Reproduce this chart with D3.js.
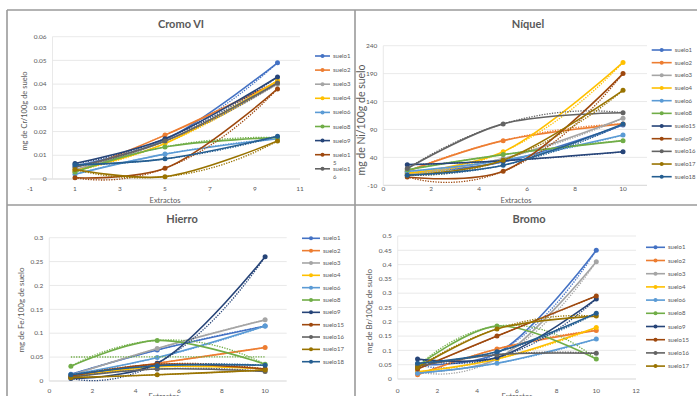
<!DOCTYPE html>
<html>
<head>
<meta charset="utf-8">
<script src="https://cdn.jsdelivr.net/npm/d3@7"></script>
<style>
  body { margin: 0; background: #fff; }
  svg { display: block; font-family: Lato, 'Open Sans', sans-serif; }
</style>
</head>
<body>
<svg id="chart" width="697" height="396"></svg>
<script>
// Extractos mesurés (axe x)
const extractos = [1, 5, 10]

// Couleurs Excel, dans l'ordre des séries
const palette = ['#4472C4', '#ED7D31', '#A5A5A5', '#FFC000', '#5B9BD5', '#70AD47',
                 '#264478', '#9E480E', '#636363', '#997300', '#255E91']

// --- Cromo VI ---
const cromoSuelos = ['suelo1', 'suelo2', 'suelo3', 'suelo4', 'suelo6', 'suelo8',
                     'suelo9', 'suelo15', 'suelo16', 'suelo17', 'suelo18']
const cromoValores = [
  [0.0055, 0.0165, 0.049],
  [0.003, 0.0185, 0.041],
  [0.004, 0.016, 0.040],
  [0.0035, 0.015, 0.0415],
  [0.002, 0.0105, 0.017],
  [0.003, 0.0135, 0.0175],
  [0.0065, 0.017, 0.043],
  [0.0005, 0.0045, 0.038],
  [0.005, 0.016, 0.0405],
  [0.004, 0.001, 0.016],
  [0.006, 0.0085, 0.018]
]
const cromoTicksX = [-1, 1, 3, 5, 7, 9, 11]
const cromoTicksY = [0, 0.01, 0.02, 0.03, 0.04, 0.05, 0.06]

// --- Níquel ---
const niquelSuelos = ['suelo1', 'suelo2', 'suelo3', 'suelo4', 'suelo6', 'suelo8',
                      'suelo15', 'suelo9', 'suelo16', 'suelo17', 'suelo18']
const niquelValores = [
  [12, 32, 98],
  [15, 70, 100],
  [10, 38, 110],
  [12, 50, 210],
  [15, 35, 80],
  [18, 45, 70],
  [27, 34, 50],
  [5, 15, 190],
  [20, 100, 120],
  [8, 35, 160],
  [8, 26, 100]
]
const niquelTicksX = [0, 2, 4, 6, 8, 10]
const niquelTicksY = [-10, 40, 90, 140, 190, 240]

// --- Hierro ---
const hierroSuelos = ['suelo1', 'suelo2', 'suelo3', 'suelo4', 'suelo6', 'suelo8',
                      'suelo9', 'suelo15', 'suelo16', 'suelo17', 'suelo18']
const hierroValores = [
  [0.014, 0.065, 0.115],
  [0.010, 0.037, 0.070],
  [0.012, 0.068, 0.128],
  [0.008, 0.030, 0.025],
  [0.013, 0.049, 0.115],
  [0.031, 0.085, 0.035],
  [0.005, 0.037, 0.260],
  [0.010, 0.035, 0.025],
  [0.008, 0.025, 0.020],
  [0.007, 0.013, 0.023],
  [0.013, 0.032, 0.033]
]
const hierroTicksX = [0, 2, 4, 6, 8, 10]
const hierroTicksY = [0, 0.05, 0.1, 0.15, 0.2, 0.25, 0.3]

// --- Bromo ---
const bromoSuelos = ['suelo1', 'suelo2', 'suelo3', 'suelo4', 'suelo6', 'suelo8',
                     'suelo9', 'suelo15', 'suelo16', 'suelo17', 'suelo18']
const bromoValores = [
  [0.05, 0.09, 0.45],
  [0.015, 0.105, 0.17],
  [0.025, 0.07, 0.41],
  [0.025, 0.07, 0.18],
  [0.02, 0.055, 0.14],
  [0.045, 0.185, 0.07],
  [0.07, 0.075, 0.28],
  [0.035, 0.15, 0.29],
  [0.045, 0.085, 0.09],
  [0.04, 0.175, 0.22],
  [0.055, 0.095, 0.23]
]
const bromoTicksX = [0, 2, 4, 6, 8, 10, 12]
const bromoTicksY = [0, 0.05, 0.1, 0.15, 0.2, 0.25, 0.3, 0.35, 0.4, 0.45, 0.5]

// Mise en page de chaque graphique (positions en px dans le 697x396)
const panels = [
  { title: 'Cromo VI', suelos: cromoSuelos, valores: cromoValores, ticksX: cromoTicksX, ticksY: cromoTicksY,
    xDomain: [-1, 11], xRange: [30, 300], yDomain: [0, 0.06], yRange: [179, 36.7],
    titleX: 181, titleY: 28, yLabel: 'mg de Cr/100g de suelo', yLabelX: 27, yLabelY: 111, yLabelSize: 7.5,
    xLabelX: 165, xLabelY: 202.5, xTickY: 191,
    legendX: 315, legendY: 56, legendStep: 14.1, legendLen: 15, legendCount: 9, legendWrap: true },
  { title: 'Níquel', suelos: niquelSuelos, valores: niquelValores, ticksX: niquelTicksX, ticksY: niquelTicksY,
    xDomain: [0, 11], xRange: [383.3, 647], yDomain: [-10, 240], yRange: [185.3, 45.7],
    titleX: 528, titleY: 28, yLabel: 'mg de Ni/100g de suelo', yLabelX: 365, yLabelY: 120, yLabelSize: 10.5,
    xLabelX: 516, xLabelY: 203, xTickY: 191,
    legendX: 651.7, legendY: 50, legendStep: 12.67, legendLen: 20, legendCount: 11 },
  { title: 'Hierro', suelos: hierroSuelos, valores: hierroValores, ticksX: hierroTicksX, ticksY: hierroTicksY,
    xDomain: [0, 11], xRange: [49.3, 286.7], yDomain: [0, 0.3], yRange: [381, 237.7],
    titleX: 182, titleY: 223, yLabel: 'mg de Fe/100g de suelo', yLabelX: 24, yLabelY: 310, yLabelSize: 8,
    xLabelX: 164, xLabelY: 398.5, xTickY: 392.5, linearTrend: ['suelo8'],
    legendX: 302, legendY: 238.3, legendStep: 12.34, legendLen: 18, legendCount: 11 },
  { title: 'Bromo', suelos: bromoSuelos, valores: bromoValores, ticksX: bromoTicksX, ticksY: bromoTicksY,
    xDomain: [0, 12], xRange: [397.7, 636], yDomain: [0, 0.5], yRange: [379, 236],
    titleX: 529, titleY: 223, yLabel: 'mg de Br/100g de suelo', yLabelX: 372, yLabelY: 311, yLabelSize: 8,
    xLabelX: 517, xLabelY: 398.5, xTickY: 392.5,
    legendX: 646, legendY: 247.3, legendStep: 13.2, legendLen: 19, legendCount: 10 }
]

const svg = d3.select('#chart')
const textGray = '#595959'

// Cadres gris entre les graphiques
const frame = svg.append('g').attr('stroke', '#9a9a9a').attr('stroke-width', 1.6)
frame.append('line').attr('x1', 7).attr('x2', 697).attr('y1', 10).attr('y2', 10)
frame.append('line').attr('x1', 7).attr('x2', 697).attr('y1', 205).attr('y2', 205)
frame.append('line').attr('x1', 7).attr('x2', 7).attr('y1', 10).attr('y2', 396)
frame.append('line').attr('x1', 355).attr('x2', 355).attr('y1', 10).attr('y2', 396)

// Courbe de tendance polynomiale (ordre 2) : passe par les 3 points
const quadTrend = (xs, ys) => x => d3.sum(xs, (xi, i) => {
  let l = 1
  xs.forEach((xj, j) => { if (j !== i) l *= (x - xj) / (xi - xj) })
  return ys[i] * l
})
// Tendance linéaire (moindres carrés)
const linTrend = (xs, ys) => {
  const mx = d3.mean(xs), my = d3.mean(ys)
  const b = d3.sum(xs, (x, i) => (x - mx) * (ys[i] - my)) / d3.sum(xs, x => (x - mx) ** 2)
  return x => my + b * (x - mx)
}

const fmt = d => d === 0 ? '0' : String(+d.toFixed(3))

panels.forEach(p => {
  const x = d3.scaleLinear().domain(p.xDomain).range(p.xRange)
  const y = d3.scaleLinear().domain(p.yDomain).range(p.yRange)
  const g = svg.append('g')

  // Grille horizontale
  g.selectAll('line.grid').data(p.ticksY.slice(1)).join('line')
    .attr('x1', x(Math.max(0, p.xDomain[0]))).attr('x2', p.xRange[1])
    .attr('y1', d => y(d)).attr('y2', d => y(d))
    .attr('stroke', '#e3e3e3').attr('stroke-width', 0.8)

  // Axes
  g.append('line').attr('x1', p.xRange[0]).attr('x2', p.xRange[1])
    .attr('y1', p.yRange[0]).attr('y2', p.yRange[0]).attr('stroke', '#d0d0d0').attr('stroke-width', 0.9)
  g.append('line').attr('x1', x(0)).attr('x2', x(0))
    .attr('y1', p.yRange[0]).attr('y2', p.yRange[1]).attr('stroke', '#e3e3e3').attr('stroke-width', 0.8)

  // Étiquettes des ticks
  g.selectAll('text.ty').data(p.ticksY).join('text')
    .attr('x', x(0) - 6).attr('y', d => y(d) + 2.2)
    .attr('text-anchor', 'end').attr('font-size', 6.5).attr('fill', textGray)
    .text(fmt)
  g.selectAll('text.tx').data(p.ticksX).join('text')
    .attr('x', d => x(d)).attr('y', p.xTickY)
    .attr('text-anchor', 'middle').attr('font-size', 6.5).attr('fill', textGray)
    .text(d => d)

  // Titres
  g.append('text').attr('x', p.titleX).attr('y', p.titleY)
    .attr('text-anchor', 'middle').attr('font-size', 11).attr('font-weight', 'bold').attr('fill', textGray)
    .text(p.title)
  g.append('text').attr('transform', `translate(${p.yLabelX},${p.yLabelY}) rotate(-90)`)
    .attr('text-anchor', 'middle').attr('font-size', p.yLabelSize).attr('fill', textGray)
    .text(p.yLabel)
  g.append('text').attr('x', p.xLabelX).attr('y', p.xLabelY)
    .attr('text-anchor', 'middle').attr('font-size', 7.5).attr('fill', textGray)
    .text('Extractos')

  const smooth = d3.line().x(d => x(d[0])).y(d => y(d[1])).curve(d3.curveCatmullRom.alpha(0.5))
  const straight = d3.line().x(d => x(d[0])).y(d => y(d[1]))
  const samples = d3.range(1, 10.001, 0.25)

  p.suelos.forEach((name, i) => {
    const color = palette[i]
    const vals = p.valores[i]
    const pts = extractos.map((e, k) => [e, vals[k]])

    // Tendances en pointillé
    const q = quadTrend(extractos, vals)
    g.append('path').attr('d', straight(samples.map(s => [s, q(s)])))
      .attr('fill', 'none').attr('stroke', color).attr('stroke-width', 1.3)
      .attr('stroke-dasharray', '1.3 1.3')
    if (p.linearTrend && p.linearTrend.includes(name)) {
      const l = linTrend(extractos, vals)
      g.append('path').attr('d', straight([[1, l(1)], [10, l(10)]]))
        .attr('fill', 'none').attr('stroke', color).attr('stroke-width', 1.3)
        .attr('stroke-dasharray', '1.3 1.3')
    }

    // Ligne lissée + marqueurs
    g.append('path').attr('d', smooth(pts))
      .attr('fill', 'none').attr('stroke', color).attr('stroke-width', 1.6)
    g.selectAll(null).data(pts).join('circle')
      .attr('cx', d => x(d[0])).attr('cy', d => y(d[1])).attr('r', 2.5)
      .attr('fill', color)
  })

  // Légende
  p.suelos.slice(0, p.legendCount).forEach((name, i) => {
    const ly = p.legendY + i * p.legendStep
    const color = palette[i]
    g.append('line').attr('x1', p.legendX).attr('x2', p.legendX + p.legendLen)
      .attr('y1', ly).attr('y2', ly).attr('stroke', color).attr('stroke-width', 1.6)
    g.append('circle').attr('cx', p.legendX + p.legendLen / 2).attr('cy', ly).attr('r', 2).attr('fill', color)
    const tx = p.legendX + p.legendLen + 3
    if (p.legendWrap && name.length > 6) {
      g.append('text').attr('x', tx).attr('y', ly + 2).attr('font-size', 6).attr('fill', textGray).text(name.slice(0, 6))
      g.append('text').attr('x', tx).attr('y', ly + 10).attr('font-size', 6).attr('fill', textGray).text(name.slice(6))
    } else {
      g.append('text').attr('x', tx).attr('y', ly + 2).attr('font-size', 6).attr('fill', textGray).text(name)
    }
  })
})
</script>
</body>
</html>
